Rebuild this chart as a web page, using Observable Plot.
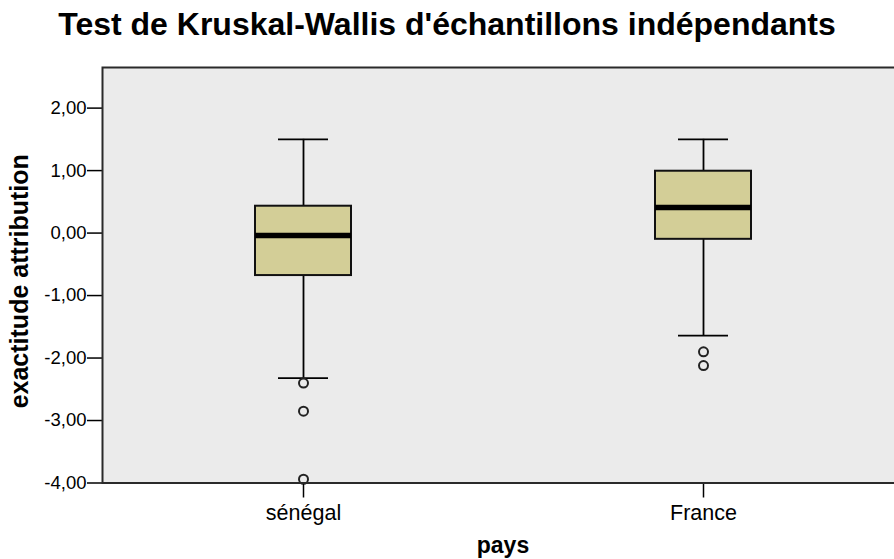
<!DOCTYPE html>
<html>
<head>
<meta charset="utf-8">
<script src="https://cdn.jsdelivr.net/npm/d3@7"></script>
<script src="https://cdn.jsdelivr.net/npm/@observablehq/plot@0.6"></script>
<style>
  html, body { margin: 0; padding: 0; background: #fff; overflow: hidden; }
  #wrap { width: 894px; height: 559px; overflow: hidden; position: relative; font-family: "Liberation Sans", Arial, sans-serif; }
  #title { height: 46px; line-height: 48px; font-size: 32px; font-weight: bold; text-align: center; width: 894px; color: #000; }
  #chart svg { display: block; max-width: none !important; }
</style>
</head>
<body>
<div id="wrap">
  <div id="title">Test de Kruskal-Wallis d'échantillons indépendants</div>
  <div id="chart"></div>
</div>
<script>
const pays = ["sénégal", "France"];
const q1 = [-0.68, -0.10];
const mediane = [-0.04, 0.41];
const q3 = [0.43, 0.99];
const moustacheBas = [-2.32, -1.64];
const moustacheHaut = [1.50, 1.50];
const outlierPays = ["sénégal", "sénégal", "sénégal", "France", "France"];
const outlierValeurs = [-2.40, -2.85, -3.94, -1.90, -2.12];
const yTicks = [-4, -3, -2, -1, 0, 1, 2];
const yLabel = "exactitude attribution";
const xLabel = "pays";

const boxes = pays.map((p, i) => ({pays: p, q1: q1[i], med: mediane[i], q3: q3[i], lo: moustacheBas[i], hi: moustacheHaut[i]}));
const outliers = outlierPays.map((p, i) => ({pays: p, v: outlierValeurs[i]}));

const fmt = d => d.toFixed(2).replace(".", ",");
const font = "Liberation Sans, Arial, sans-serif";

const chart = Plot.plot({
  width: 903,
  height: 513,
  marginLeft: 102,
  marginRight: 0,
  marginTop: 21,
  marginBottom: 76.5,
  style: {fontFamily: font, background: "#fff", color: "#000", maxWidth: "none"},
  x: {domain: pays, padding: 0, axis: null},
  y: {domain: [-4, 2.65], axis: null},
  marks: [
    Plot.frame({fill: "#EBEBEB", stroke: null}),
    Plot.ruleX(boxes, {x: "pays", y1: "lo", y2: "hi", stroke: "#000", strokeWidth: 1.8}),
    Plot.tickY(boxes, {x: "pays", y: "lo", stroke: "#000", strokeWidth: 1.8, insetLeft: 175, insetRight: 175}),
    Plot.tickY(boxes, {x: "pays", y: "hi", stroke: "#000", strokeWidth: 1.8, insetLeft: 175, insetRight: 175}),
    Plot.barY(boxes, {x: "pays", y1: "q1", y2: "q3", fill: "#D3CE97", stroke: "#111", strokeWidth: 2, insetLeft: 152, insetRight: 152}),
    Plot.tickY(boxes, {x: "pays", y: "med", stroke: "#000", strokeWidth: 5.5, insetLeft: 152, insetRight: 152}),
    Plot.dot(outliers, {x: "pays", y: "v", r: 4.5, fill: "none", stroke: "#222", strokeWidth: 2}),
    Plot.axisY({ticks: yTicks, tickFormat: fmt, tickSize: 15, tickPadding: 1, fontSize: 18.5, label: null, stroke: "#000", strokeWidth: 1.5}),
    Plot.axisX({tickSize: 15, tickPadding: 7, fontSize: 21.5, label: null, stroke: "#000", strokeWidth: 1.5}),
    Plot.frame({stroke: "#2a2a2a", strokeWidth: 2}),
    Plot.text([yLabel], {frameAnchor: "left", textAnchor: "middle", text: d => d, rotate: -90, dx: -83, dy: 6, fontSize: 25, fontWeight: "bold"}),
    Plot.text([xLabel], {frameAnchor: "bottom", text: d => d, dy: 70, fontSize: 23, fontWeight: "bold"})
  ]
});
document.getElementById("chart").appendChild(chart);
</script>
</body>
</html>
